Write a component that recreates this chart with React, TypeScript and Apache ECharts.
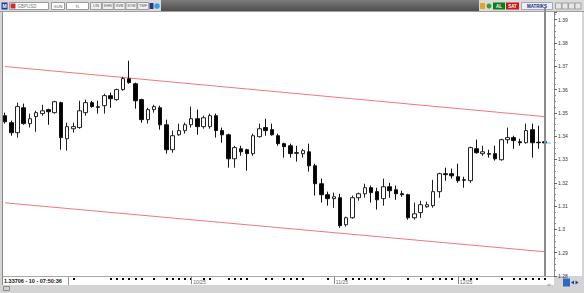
import React, { useEffect, useRef } from "react";
import * as echarts from "echarts";

// [open, close, low, high] daily candles
const candles: number[][] = [
  [1.3488, 1.3462, 1.3454, 1.3501],
  [1.3458, 1.3415, 1.3402, 1.3467],
  [1.3415, 1.3527, 1.3394, 1.3544],
  [1.3522, 1.3454, 1.3449, 1.354],
  [1.3454, 1.3475, 1.3437, 1.3497],
  [1.3484, 1.3501, 1.3419, 1.3509],
  [1.3497, 1.3509, 1.3488, 1.3535],
  [1.3514, 1.3505, 1.3449, 1.3518],
  [1.3501, 1.3548, 1.3497, 1.3552],
  [1.3544, 1.3394, 1.3342, 1.3548],
  [1.3389, 1.3441, 1.3338, 1.3458],
  [1.3432, 1.3441, 1.3415, 1.3458],
  [1.3437, 1.3509, 1.3432, 1.3552],
  [1.3501, 1.3544, 1.3488, 1.3557],
  [1.3544, 1.3527, 1.3522, 1.3552],
  [1.3526, 1.3524, 1.3497, 1.3552],
  [1.3531, 1.3574, 1.3497, 1.3582],
  [1.3574, 1.3561, 1.3522, 1.3587],
  [1.3557, 1.36, 1.3552, 1.3604],
  [1.36, 1.3647, 1.3595, 1.3655],
  [1.3647, 1.363, 1.3625, 1.3724],
  [1.3625, 1.3552, 1.3518, 1.363],
  [1.3557, 1.3471, 1.3458, 1.3561],
  [1.3471, 1.3514, 1.3454, 1.3522],
  [1.3514, 1.3527, 1.3501, 1.3535],
  [1.3522, 1.3449, 1.3428, 1.3531],
  [1.3449, 1.3342, 1.3325, 1.3471],
  [1.3342, 1.3402, 1.3329, 1.3424],
  [1.3406, 1.3424, 1.3402, 1.3454],
  [1.3424, 1.3449, 1.3411, 1.3458],
  [1.3449, 1.3475, 1.3437, 1.3527],
  [1.3475, 1.3441, 1.3406, 1.3514],
  [1.3441, 1.3479, 1.3432, 1.3488],
  [1.3441, 1.3488, 1.3432, 1.3497],
  [1.3488, 1.3424, 1.3394, 1.3497],
  [1.3424, 1.3406, 1.3372, 1.3437],
  [1.3406, 1.3303, 1.3265, 1.3411],
  [1.3303, 1.3351, 1.3265, 1.3359],
  [1.3346, 1.3333, 1.3316, 1.3359],
  [1.3342, 1.3325, 1.3252, 1.3346],
  [1.3325, 1.3402, 1.3316, 1.3411],
  [1.3398, 1.3432, 1.3394, 1.3454],
  [1.3437, 1.3424, 1.3402, 1.3475],
  [1.3428, 1.3406, 1.3402, 1.3454],
  [1.3402, 1.3368, 1.3359, 1.3411],
  [1.3368, 1.3355, 1.3308, 1.3372],
  [1.3359, 1.3325, 1.3308, 1.3368],
  [1.3329, 1.3327, 1.3291, 1.3359],
  [1.3325, 1.3338, 1.3308, 1.3346],
  [1.3333, 1.3273, 1.3248, 1.3368],
  [1.3273, 1.3196, 1.3145, 1.3282],
  [1.3196, 1.3149, 1.3115, 1.3218],
  [1.3149, 1.3132, 1.3102, 1.3162],
  [1.3132, 1.314, 1.3093, 1.3158],
  [1.3136, 1.3016, 1.3007, 1.3153],
  [1.302, 1.305, 1.3012, 1.3055],
  [1.305, 1.3136, 1.3046, 1.3145],
  [1.3136, 1.3153, 1.3123, 1.3158],
  [1.3153, 1.3179, 1.3136, 1.3196],
  [1.3179, 1.3158, 1.3115, 1.3188],
  [1.3162, 1.3127, 1.3085, 1.3179],
  [1.3132, 1.3183, 1.3102, 1.3218],
  [1.3183, 1.3166, 1.3136, 1.32],
  [1.317, 1.3153, 1.3127, 1.3188],
  [1.3153, 1.3149, 1.314, 1.3166],
  [1.3149, 1.305, 1.3042, 1.3153],
  [1.305, 1.3067, 1.3042, 1.3115],
  [1.3072, 1.3106, 1.305, 1.3123],
  [1.3097, 1.3106, 1.3093, 1.3119],
  [1.3102, 1.3162, 1.3093, 1.3213],
  [1.3162, 1.3239, 1.3136, 1.3243],
  [1.3239, 1.3235, 1.3209, 1.3265],
  [1.3239, 1.323, 1.3218, 1.3261],
  [1.3226, 1.3209, 1.32, 1.3282],
  [1.3213, 1.3211, 1.3179, 1.3226],
  [1.3209, 1.3351, 1.32, 1.3355],
  [1.3346, 1.3329, 1.3325, 1.3385],
  [1.3325, 1.3333, 1.3316, 1.3359],
  [1.3325, 1.3323, 1.3308, 1.3342],
  [1.3325, 1.3303, 1.3295, 1.3359],
  [1.3299, 1.3385, 1.3295, 1.3389],
  [1.3385, 1.3394, 1.3368, 1.3437],
  [1.3394, 1.3381, 1.3346, 1.3402],
  [1.3376, 1.3372, 1.3359, 1.3389],
  [1.3372, 1.3424, 1.3368, 1.3454],
  [1.3428, 1.3372, 1.3308, 1.3454],
  [1.3374, 1.3372, 1.3346, 1.3445],
  [1.3376, 1.3371, 1.3368, 1.3378],
];

// one extra empty slot at the right edge of the chart
const categories: string[] = candles.map((_, i) => "d" + (i + 1)).concat([""]);

const monthTickIndex = [30, 53, 73];
const monthTickLabels = ["10/25", "11/25", "12/25"];

const dotTickIndex = [
  11, 17, 18, 19, 20, 21, 22, 24, 26, 27, 28, 29, 30, 32, 33, 36, 37, 38, 39, 42,
  43, 45, 46, 47, 48, 52, 55, 56, 57, 58, 59, 60, 61, 65, 67, 69, 70, 71, 72, 74,
  75, 76, 80, 82, 83, 84, 85, 86, 87,
];

const channelIndex = [0, 87];
const channelUpper = [1.3699, 1.3484];
const channelLower = [1.3114, 1.2904];

const lastPrice = 1.33706;
const lastInfo = "10 - 07:50:36";
const symbolName = "GBPUSD";
const toolButtons = ["LIN", "KHN", "SVB", "SYM", "TMF"];

const yMin = 1.28;
const yMax = 1.3933;
const yStep = 0.01;

const GRID_LEFT = 2;
const GRID_RIGHT = 30;
const GRID_TOP = 12;
const GRID_BOTTOM = 17;
const CHART_W = 584;
const CHART_H = 293;

const FONT = "Liberation Sans";

function channelData(vals: number[]) {
  return categories.map((_, i) => {
    const k = channelIndex.indexOf(i);
    return k >= 0 ? vals[k] : "-";
  });
}

function txt(x: number, y: number, text: string, o: any = {}) {
  return {
    type: "text",
    x,
    y,
    z: 20,
    silent: true,
    style: {
      text,
      fontSize: o.size ?? 4.5,
      fontFamily: FONT,
      fontWeight: o.bold ? "bold" : "normal",
      fill: o.fill ?? "#555",
      align: o.align ?? "center",
      verticalAlign: "middle",
    },
  };
}

function box(x: number, y: number, w: number, h: number, fill: string, stroke?: string, z = 15) {
  return {
    type: "rect",
    z,
    silent: true,
    shape: { x, y, width: w, height: h },
    style: { fill, stroke: stroke ?? null, lineWidth: 1 },
  };
}

function cursorX(chart: any): number {
  const lastIdx = candles.length - 1;
  let px: any = null;
  try {
    px = chart.convertToPixel({ xAxisIndex: 0 }, lastIdx);
  } catch (e) {
    px = null;
  }
  const v = Array.isArray(px) ? px[0] : px;
  if (typeof v === "number" && isFinite(v) && v > GRID_LEFT && v < CHART_W - GRID_RIGHT) return v;
  // band layout of the category axis
  const w = CHART_W - GRID_LEFT - GRID_RIGHT;
  return GRID_LEFT + (w / categories.length) * (lastIdx + 0.5);
}

function buildGraphics(cx: number) {
  const g: any[] = [];
  // chart panes
  g.push(box(3, 12, 579, 264, "#ffffff", undefined, -10));
  g.push(box(3, 277, 551, 8, "#ffffff", undefined, -10));
  g.push({ type: "line", z: -9, silent: true, shape: { x1: 3, y1: 276.5, x2: 554, y2: 276.5 }, style: { stroke: "#a8a8a8", lineWidth: 1 } });
  g.push({ type: "line", z: 12, silent: true, shape: { x1: 2.5, y1: 12, x2: 2.5, y2: 285 }, style: { stroke: "#8c8c8c", lineWidth: 1 } });
  // toolbar
  g.push(box(0, 0, 584, 11.5, "#dadada", undefined, 14));
  g.push({ type: "line", z: 15, silent: true, shape: { x1: 0, y1: 11.5, x2: 584, y2: 11.5 }, style: { stroke: "#a0a0a0", lineWidth: 1 } });
  g.push(box(1.5, 2.5, 6, 7, "#1c3c9c"));
  g.push(txt(4.5, 6, "M", { fill: "#ffffff", size: 5, bold: true }));
  g.push(box(9.5, 2.5, 39, 7, "#ffffff", "#9a9a9a"));
  g.push(box(10.5, 3.5, 5, 5, "#d42a2a"));
  g.push(txt(17.5, 6, symbolName, { align: "left", fill: "#777", size: 4.5 }));
  g.push(box(51.5, 2.5, 13, 7, "#ffffff", "#9a9a9a"));
  g.push(txt(58, 6, "GUN", { size: 4 }));
  g.push(box(66.5, 2.5, 22, 7, "#ffffff", "#9a9a9a"));
  g.push(txt(77.5, 6, "TL", { size: 4 }));
  toolButtons.forEach((b, k) => {
    const x = 90.5 + k * 11.8;
    g.push(box(x, 2.5, 11, 7, "#f0f0f0", "#9a9a9a"));
    g.push(txt(x + 5.5, 6, b, { size: 3.8 }));
  });
  g.push(box(149.5, 3, 4, 6, "#2a3a80"));
  g.push({ type: "circle", z: 16, silent: true, shape: { cx: 157, cy: 6, r: 2.8 }, style: { fill: "#3b9de0" } });
  g.push({
    type: "rect",
    z: 15,
    silent: true,
    shape: { x: 161, y: 0, width: 318, height: 11 },
    style: {
      fill: {
        type: "linear",
        x: 0,
        y: 0,
        x2: 0,
        y2: 1,
        colorStops: [
          { offset: 0, color: "#7c7c7c" },
          { offset: 1, color: "#4e4e4e" },
        ],
      },
    },
  });
  g.push(box(480, 3, 5, 6, "#e0a820"));
  g.push({ type: "circle", z: 16, silent: true, shape: { cx: 489, cy: 6, r: 2.5 }, style: { fill: "#3a9a3a" } });
  g.push(box(493, 2.5, 12, 7, "#157a15"));
  g.push(txt(499, 6, "AL", { fill: "#ffffff", bold: true }));
  g.push(box(506, 2.5, 13, 7, "#c41a1a"));
  g.push(txt(512.5, 6, "SAT", { fill: "#ffffff", bold: true }));
  g.push(box(521.5, 2.5, 31, 7, "#eef0f8", "#a0a8c0"));
  g.push(txt(537, 6, "MATRIKS", { fill: "#1a2a7a", bold: true }));
  [555.5, 562, 568.5, 575].forEach((x) => g.push(box(x, 3, 6, 6, "#e6e6e6", "#a0a0a0")));
  // bottom info box
  g.push(box(3, 277, 65.5, 8, "#ffffff", undefined, 14));
  g.push({ type: "line", z: 15, silent: true, shape: { x1: 68.5, y1: 277, x2: 68.5, y2: 285 }, style: { stroke: "#9a9a9a", lineWidth: 1 } });
  g.push(txt(4, 281.3, lastPrice.toFixed(5) + " - " + lastInfo, { align: "left", fill: "#111", size: 5.5, bold: true }));
  // status bar
  g.push({ type: "rect", z: 15, silent: true, shape: { x: 3.5, y: 286.5, width: 6, height: 4 }, style: { fill: "none", stroke: "#8a8a8a", lineWidth: 1 } });
  g.push(txt(549, 284.5, "ıılı", { fill: "#777", size: 4 }));
  g.push(box(563, 278.5, 7, 8, "#2f66c8"));
  g.push({ type: "polygon", z: 16, silent: true, shape: { points: [[571, 282.5], [574, 280.5], [574, 284.5]] }, style: { fill: "#1f3f8f" } });
  g.push({ type: "polygon", z: 16, silent: true, shape: { points: [[578.5, 282.5], [575.5, 280.5], [575.5, 284.5]] }, style: { fill: "#1f3f8f" } });
  // vertical cursor at the last bar (placed on top)
  g.push({ type: "rect", z: 30, silent: true, shape: { x: Math.round(cx) - 1, y: 8, width: 2, height: 268 }, style: { fill: "#8a8a8a" } });
  return g;
}

function buildOption(): any {
  const dotSet = new Set(dotTickIndex);
  const monthMap = new Map<number, string>();
  monthTickIndex.forEach((idx, k) => monthMap.set(idx, monthTickLabels[k]));
  const lastIdx = candles.length - 1;
  const lastPriceData = categories.map((_, i) => (i >= lastIdx ? lastPrice : "-"));

  return {
    animation: false,
    backgroundColor: "transparent",
    grid: { left: GRID_LEFT, right: GRID_RIGHT, top: GRID_TOP, bottom: GRID_BOTTOM, containLabel: false },
    xAxis: [
      {
        type: "category",
        data: categories,
        boundaryGap: true,
        position: "bottom",
        offset: 2,
        axisLine: { show: false },
        axisTick: {
          show: true,
          alignWithLabel: true,
          interval: (i: number) => dotSet.has(i),
          length: 2,
          lineStyle: { color: "#000000", width: 2 },
        },
        axisLabel: { show: false },
        splitLine: { show: false },
        axisPointer: { show: false },
      },
      {
        type: "category",
        data: categories,
        boundaryGap: true,
        position: "bottom",
        offset: 0,
        axisLine: { show: false },
        axisTick: {
          show: true,
          alignWithLabel: true,
          interval: (i: number) => monthMap.has(i),
          length: 8,
          lineStyle: { color: "#8a8a8a", width: 1 },
        },
        axisLabel: {
          show: true,
          interval: (i: number) => monthMap.has(i),
          formatter: (_v: string, i: number) => monthMap.get(i) ?? "",
          align: "left",
          padding: [0, 0, 0, 2],
          margin: 3,
          fontSize: 5,
          fontFamily: FONT,
          color: "#666666",
        },
        splitLine: { show: false },
      },
    ],
    yAxis: {
      type: "value",
      position: "right",
      min: yMin,
      max: yMax,
      interval: yStep,
      axisLine: { show: true, lineStyle: { color: "#8a8a8a", width: 1 } },
      axisTick: { show: true, length: 3, lineStyle: { color: "#666666" } },
      minorTick: { show: true, splitNumber: 4, length: 2, lineStyle: { color: "#8a8a8a" } },
      splitLine: { show: false },
      axisLabel: {
        fontSize: 5,
        fontFamily: FONT,
        color: "#333333",
        margin: 4,
        showMaxLabel: false,
        formatter: (v: number) => {
          const r = Math.round(v * 100);
          if (Math.abs(v * 100 - r) > 1e-6) return "";
          return String(r / 100);
        },
      },
    },
    series: [
      {
        type: "line",
        data: channelData(channelUpper),
        connectNulls: true,
        symbol: "none",
        silent: true,
        z: 1,
        lineStyle: { color: "#f07878", width: 1 },
      },
      {
        type: "line",
        data: channelData(channelLower),
        connectNulls: true,
        symbol: "none",
        silent: true,
        z: 1,
        lineStyle: { color: "#f07878", width: 1 },
      },
      {
        type: "candlestick",
        data: candles,
        barWidth: 4,
        z: 3,
        itemStyle: {
          color: "#ffffff",
          color0: "#000000",
          borderColor: "#222222",
          borderColor0: "#111111",
          borderWidth: 1,
        },
      },
      {
        type: "line",
        data: lastPriceData,
        symbol: "none",
        silent: true,
        z: 4,
        lineStyle: { color: "#38d8e0", width: 1 },
      },
    ],
  };
}

export default function App() {
  const ref = useRef<HTMLDivElement>(null);
  useEffect(() => {
    if (!ref.current) return;
    const chart = echarts.init(ref.current, null, { renderer: "svg" });
    chart.setOption(buildOption());
    chart.setOption({ graphic: { elements: buildGraphics(cursorX(chart)) } });
    return () => chart.dispose();
  }, []);
  return (
    <div
      ref={ref}
      style={{ position: "fixed", left: 0, top: 0, width: CHART_W, height: CHART_H, background: "#d4d4d4" }}
    />
  );
}
